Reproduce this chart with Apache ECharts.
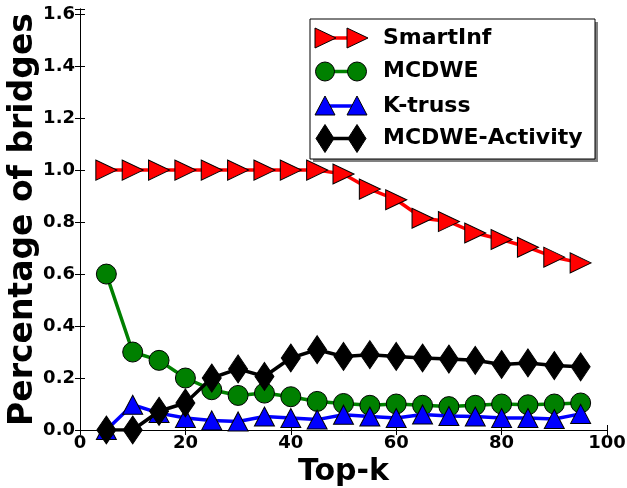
<!DOCTYPE html>
<html>
<head>
<meta charset="utf-8">
<script src="https://cdn.jsdelivr.net/npm/echarts@6/dist/echarts.min.js"></script>
<style>
  html, body { margin: 0; padding: 0; background: #fff; }
  #chart { width: 627px; height: 488px; }
</style>
</head>
<body>
<div id="chart"></div>
<script>
var topK = [5, 10, 15, 20, 25, 30, 35, 40, 45, 50, 55, 60, 65, 70, 75, 80, 85, 90, 95];
var smartInf = [1, 1, 1, 1, 1, 1, 1, 1, 1, 0.985, 0.927, 0.886, 0.815, 0.802, 0.758, 0.733, 0.703, 0.665, 0.643];
var mcdwe = [0.6, 0.3, 0.268, 0.2, 0.155, 0.133, 0.142, 0.128, 0.11, 0.102, 0.095, 0.1, 0.095, 0.09, 0.095, 0.1, 0.097, 0.1, 0.104];
var kTruss = [0.0, 0.097, 0.065, 0.046, 0.037, 0.033, 0.052, 0.046, 0.04, 0.059, 0.052, 0.046, 0.06, 0.054, 0.052, 0.046, 0.046, 0.042, 0.062];
var activity = [0, 0, 0.072, 0.104, 0.2, 0.235, 0.206, 0.277, 0.309, 0.283, 0.29, 0.283, 0.277, 0.273, 0.268, 0.252, 0.258, 0.248, 0.243];
var seriesNames = ['SmartInf', 'MCDWE', 'K-truss', 'MCDWE-Activity'];
var xTicks = [0, 20, 40, 60, 80, 100];
var yTicks = [0, 0.2, 0.4, 0.6, 0.8, 1.0, 1.2, 1.4, 1.6];

var chartDom = document.getElementById('chart');
var myChart = echarts.init(chartDom, null, { renderer: 'canvas' });
var FONT = 'DejaVu Sans';

function pairs(ys) {
    return topK.map(function (x, i) { return [x, ys[i]]; });
}

function isTick(v) {
    return yTicks.some(function (t) { return Math.abs(t - v) < 1e-6; });
}

var colors = ['#ff0000', '#008000', '#0000ff', '#000000'];

// legend drawn by hand: two markers joined by a line, like matplotlib
var legendX = 310, legendY = 19, legendW = 285, legendH = 140;
var rowY = [38, 71.5, 106, 138.5];
var m1 = 325, m2 = 357;

function legendMarker(i, cx, cy) {
    var c = colors[i];
    var st = { fill: c, stroke: '#000', lineWidth: 1 };
    if (i === 0) {
        return { type: 'polygon', shape: { points: [[cx - 10, cy - 10], [cx + 11, cy], [cx - 10, cy + 10]] }, style: st };
    } else if (i === 1) {
        return { type: 'circle', shape: { cx: cx, cy: cy, r: 9.5 }, style: st };
    } else if (i === 2) {
        return { type: 'polygon', shape: { points: [[cx, cy - 10], [cx + 10, cy + 9], [cx - 10, cy + 9]] }, style: st };
    }
    return { type: 'polygon', shape: { points: [[cx, cy - 14], [cx + 9, cy], [cx, cy + 14], [cx - 9, cy]] }, style: st };
}

var legendEls = [
    { type: 'rect', shape: { x: legendX + 3, y: legendY + 3, width: legendW, height: legendH }, style: { fill: '#808080' }, z: 100 },
    { type: 'rect', shape: { x: legendX, y: legendY, width: legendW, height: legendH }, style: { fill: '#fff', stroke: '#000', lineWidth: 1 }, z: 101 }
];
seriesNames.forEach(function (name, i) {
    legendEls.push({ type: 'line', shape: { x1: m1, y1: rowY[i], x2: m2, y2: rowY[i] }, style: { stroke: colors[i], lineWidth: 3.5 }, z: 102 });
    var a = legendMarker(i, m1, rowY[i]); a.z = 103; legendEls.push(a);
    var b = legendMarker(i, m2, rowY[i]); b.z = 103; legendEls.push(b);
    legendEls.push({
        type: 'text', x: 383, y: rowY[i], z: 103,
        style: { text: name, fill: '#000', font: 'bold 22px "DejaVu Sans"', textVerticalAlign: 'middle' }
    });
});

var option = {
    animation: false,
    backgroundColor: '#fff',
    grid: { left: 80, right: 20, top: 9, bottom: 58, outerBoundsMode: 'none', containLabel: false },
    xAxis: [
        {
            type: 'value', min: 0, max: 100, interval: 20,
            name: 'Top-k', nameLocation: 'middle', nameGap: 27, nameMoveOverlap: false,
            nameTextStyle: { fontFamily: FONT, fontWeight: 'bold', fontSize: 30, color: '#000' },
            axisLine: { show: true, onZero: false, lineStyle: { color: '#000', width: 1 } },
            axisTick: { show: true, inside: true, length: 5, lineStyle: { color: '#000' } },
            axisLabel: { fontFamily: FONT, fontWeight: 'bold', fontSize: 18, color: '#000', margin: 4 },
            splitLine: { show: false }
        },
        {
            type: 'value', min: 0, max: 100, interval: 20, position: 'top',
            axisLine: { show: true, lineStyle: { color: '#000', width: 1 } },
            axisTick: { show: true, inside: true, length: 5, lineStyle: { color: '#000' } },
            axisLabel: { show: false },
            splitLine: { show: false }
        }
    ],
    yAxis: [
        {
            type: 'value', min: 0, max: 1.62, interval: 0.2,
            name: 'Percentage of bridges', nameLocation: 'middle', nameGap: 40, nameMoveOverlap: false,
            nameTextStyle: { fontFamily: FONT, fontWeight: 'bold', fontSize: 33, color: '#000' },
            axisLine: { show: true, onZero: false, lineStyle: { color: '#000', width: 1 } },
            axisTick: { show: true, inside: true, length: 5, lineStyle: { color: '#000' } },
            axisLabel: {
                fontFamily: FONT, fontWeight: 'bold', fontSize: 18, color: '#000', margin: 5,
                formatter: function (v) { return isTick(v) ? v.toFixed(1) : ''; }
            },
            splitLine: { show: false }
        },
        {
            type: 'value', min: 0, max: 1.62, interval: 0.2, position: 'right',
            axisLine: { show: true, lineStyle: { color: '#000', width: 1 } },
            axisTick: { show: true, inside: true, length: 5, lineStyle: { color: '#000' } },
            axisLabel: { show: false },
            splitLine: { show: false }
        }
    ],
    graphic: legendEls,
    series: [
        {
            name: seriesNames[0], type: 'line', z: 2, data: pairs(smartInf),
            symbol: 'triangle', symbolSize: [20, 21], symbolRotate: -90,
            lineStyle: { color: colors[0], width: 3.5 },
            itemStyle: { color: colors[0], borderColor: '#000', borderWidth: 1 }
        },
        {
            name: seriesNames[1], type: 'line', z: 3, data: pairs(mcdwe),
            symbol: 'circle', symbolSize: 20,
            lineStyle: { color: colors[1], width: 3.5 },
            itemStyle: { color: colors[1], borderColor: '#000', borderWidth: 1 }
        },
        {
            name: seriesNames[2], type: 'line', z: 4, data: pairs(kTruss),
            symbol: 'triangle', symbolSize: [20, 19],
            lineStyle: { color: colors[2], width: 3.5 },
            itemStyle: { color: colors[2], borderColor: '#000', borderWidth: 1 }
        },
        {
            name: seriesNames[3], type: 'line', z: 5, data: pairs(activity),
            symbol: 'diamond', symbolSize: [19, 28],
            lineStyle: { color: colors[3], width: 3.5 },
            itemStyle: { color: colors[3], borderColor: '#000', borderWidth: 1 }
        }
    ]
};

if (option && typeof option === 'object') {
    myChart.setOption(option);
}
</script>
</body>
</html>
